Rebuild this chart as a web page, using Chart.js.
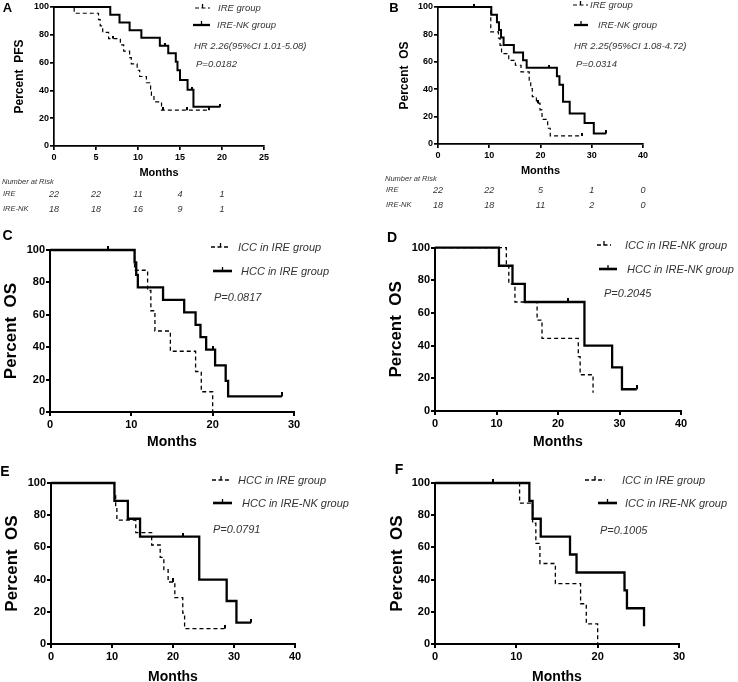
<!DOCTYPE html>
<html>
<head>
<meta charset="utf-8">
<title>Kaplan-Meier curves, IRE vs IRE-NK</title>
<script src="https://cdn.jsdelivr.net/npm/chart.js@4.4.1/dist/chart.umd.min.js"></script>
<style>
  body { margin: 0; background: #fff; }
  #fig { position: relative; width: 738px; height: 682px; overflow: hidden; font-family: "Liberation Sans", Arial, sans-serif; }
  .panel { position: absolute; }
  .t { position: absolute; line-height: 1; white-space: nowrap; transform: translateY(-50%); }
  .it { font-style: italic; color: #333; }
  .b { font-weight: bold; color: #000; }
  .c { transform: translate(-50%, -50%); }
</style>
</head>
<body>
<div id="fig"></div>
<script>
// ---- data (months, percent) ----

// A: progression-free survival
const pfsIreTimes = [0, 2.4, 5.3, 5.5, 5.8, 6.5, 7.9, 8.3, 9.0, 9.2, 9.9, 10.2, 11.0, 11.5, 11.6, 11.9, 12.8, 18.4];
const pfsIreSurv = [100, 95.5, 90.9, 86.4, 81.8, 77.3, 72.7, 68.2, 63.6, 59.1, 54.5, 50.0, 45.5, 40.9, 36.4, 31.8, 25.8, 25.8];
const pfsIreCensor = [7.0, 13.0, 15.8, 18.4];

const pfsNkTimes = [0, 6.7, 7.8, 9.0, 10.4, 12.6, 13.6, 14.5, 14.7, 15.0, 15.9, 16.6, 19.8];
const pfsNkSurv = [100, 94.4, 88.9, 83.3, 77.8, 72.2, 66.7, 60.6, 54.5, 47.4, 40.4, 28.3, 28.3];
const pfsNkCensor = [13.2, 16.4, 19.8];

// B: overall survival
const osIreTimes = [0, 10.3, 11.8, 12.1, 12.4, 13.8, 15.1, 16.2, 17.8, 18.1, 18.4, 19.2, 19.9, 20.3, 21.4, 21.9, 28.1];
const osIreSurv = [100, 81.8, 77.3, 72.0, 66.0, 61.0, 57.5, 52.7, 46.6, 40.5, 34.5, 29.8, 24.9, 18.0, 11.5, 5.9, 5.9];
const osIreCensor = [7.0, 19.6, 28.1];

const osNkTimes = [0, 10.4, 11.5, 11.9, 12.3, 12.8, 14.8, 16.6, 17.3, 23.2, 23.7, 24.4, 25.7, 28.6, 30.4, 32.8];
const osNkSurv = [100, 94.4, 88.9, 83.3, 77.8, 72.2, 66.7, 61.1, 55.6, 49.4, 43.2, 30.9, 22.2, 15.4, 7.7, 7.7];
const osNkCensor = [21.6, 32.8];

// C-F: subgroups
const iccIreTimes = [0, 10.4, 12.0, 12.4, 12.9, 14.8, 17.9, 18.6, 20.0];
const iccIreSurv = [100, 87.5, 75.0, 62.5, 50.0, 37.5, 25.0, 12.5, 0];
const iccIreCensor = [7.1];

const hccIreTimes = [0, 10.4, 10.6, 10.8, 13.9, 16.5, 17.9, 18.5, 19.2, 20.3, 21.6, 21.9, 28.5];
const hccIreSurv = [100, 92.3, 84.6, 76.9, 69.2, 61.5, 53.8, 46.2, 38.5, 28.8, 19.2, 9.6, 9.6];
const hccIreCensor = [20.0, 28.5];

const iccNkTimes = [0, 11.6, 12.0, 13.0, 16.6, 17.4, 23.3, 23.6, 25.7];
const iccNkSurv = [100, 88.9, 77.8, 66.7, 55.6, 44.4, 33.3, 22.2, 11.1];
const iccNkCensor = [];

const hccNkTimes = [0, 10.4, 12.6, 14.6, 24.3, 28.8, 30.4, 32.8];
const hccNkSurv = [100, 88.9, 77.8, 66.7, 40.0, 26.7, 13.3, 13.3];
const hccNkCensor = [21.7, 32.8];

// number at risk (A and B)
const riskTimesA = [0, 5, 10, 15, 20];
const riskIreA = [22, 22, 11, 4, 1];
const riskNkA = [18, 18, 16, 9, 1];
const riskTimesB = [0, 10, 20, 30, 40];
const riskIreB = [22, 22, 5, 1, 0];
const riskNkB = [18, 18, 11, 2, 0];

// ---- drawing ----
Chart.defaults.font.family = '"Liberation Sans", Arial, sans-serif';
Chart.defaults.color = '#000';

const fig = document.getElementById('fig');

function survAt(times, surv, t) {
    let v = surv[0];
    for (let i = 0; i < times.length; i++) {
        if (times[i] <= t) v = surv[i];
    }
    return v;
}

// small upward tick used for censored cases
function tickMark(h, w) {
    const c = document.createElement('canvas');
    c.width = w;
    c.height = h * 2;
    const g = c.getContext('2d');
    g.fillStyle = '#000';
    g.fillRect(0, 0, w, h);
    return c;
}

function curve(times, surv, censor, dashed) {
    return { times, surv, censor, dashed };
}

function kmSets(cv, p) {
    return [{
        data: cv.times.map((t, i) => ({ x: t, y: cv.surv[i] })),
        stepped: 'before',
        borderColor: '#000',
        borderWidth: cv.dashed ? p.dashW : p.lineW,
        borderDash: cv.dashed ? [4, 3] : [],
        pointRadius: 0,
        fill: false,
        clip: 3
    }, {
        data: cv.censor.map(t => ({ x: t, y: survAt(cv.times, cv.surv, t) })),
        showLine: false,
        pointStyle: tickMark(p.tickH, 2),
        pointRadius: 3,
        borderWidth: 0,
        clip: false
    }];
}

function makePanel(p) {
    const box = document.createElement('div');
    box.className = 'panel';
    box.style.left = p.left + 'px';
    box.style.top = p.top + 'px';
    const cvs = document.createElement('canvas');
    cvs.width = p.w;
    cvs.height = p.h;
    box.appendChild(cvs);
    fig.appendChild(box);

    const datasets = [];
    p.curves.forEach(cv => datasets.push(...kmSets(cv, p)));

    const xAxisH = p.h - p.pt - p.ph;
    return new Chart(cvs, {
        type: 'line',
        data: { datasets },
        options: {
            responsive: false,
            animation: false,
            events: [],
            layout: { padding: { left: 0, top: p.pt, right: p.w - p.plotRight, bottom: 0 } },
            plugins: { legend: { display: false }, tooltip: { enabled: false } },
            scales: {
                x: {
                    type: 'linear', min: 0, max: p.xMax,
                    ticks: { stepSize: p.xStep, font: { size: p.tick, weight: 'bold' }, color: '#000', padding: 2 },
                    grid: { drawOnChartArea: false, tickLength: 4, color: '#000', lineWidth: p.axisW },
                    border: { color: '#000', width: p.axisW },
                    title: { display: true, text: 'Months', color: '#000',
                             font: { size: p.xTitle, weight: 'bold' }, padding: { top: 0, bottom: p.xTitlePad } },
                    afterFit: s => { s.height = xAxisH; }
                },
                y: {
                    type: 'linear', min: 0, max: 100,
                    ticks: { stepSize: 20, font: { size: p.tick, weight: 'bold' }, color: '#000', padding: 1 },
                    grid: { drawOnChartArea: false, tickLength: 4, color: '#000', lineWidth: p.axisW },
                    border: { color: '#000', width: p.axisW },
                    title: { display: true, text: p.yTitle, color: '#000',
                             font: { size: p.yTitleSize, weight: 'bold' }, padding: { top: p.yTitlePad, bottom: 0 } },
                    afterFit: s => { s.width = p.yw; }
                }
            }
        }
    });
}

function txt(x, y, s, size, cls) {
    const d = document.createElement('div');
    d.className = 't ' + (cls || '');
    d.style.left = x + 'px';
    d.style.top = y + 'px';
    d.style.fontSize = size + 'px';
    d.textContent = s;
    fig.appendChild(d);
    return d;
}

function icon(x, y, w, dashed, lw) {
    const ns = 'http://www.w3.org/2000/svg';
    const svg = document.createElementNS(ns, 'svg');
    svg.setAttribute('width', w);
    svg.setAttribute('height', 10);
    svg.style.position = 'absolute';
    svg.style.left = x + 'px';
    svg.style.top = (y - 6) + 'px';
    const ln = document.createElementNS(ns, 'line');
    ln.setAttribute('x1', 0); ln.setAttribute('y1', 6);
    ln.setAttribute('x2', w); ln.setAttribute('y2', 6);
    ln.setAttribute('stroke', '#000');
    ln.setAttribute('stroke-width', lw);
    if (dashed) ln.setAttribute('stroke-dasharray', '4 2.5');
    const tk = document.createElementNS(ns, 'line');
    tk.setAttribute('x1', w / 2); tk.setAttribute('y1', 2);
    tk.setAttribute('x2', w / 2); tk.setAttribute('y2', 6);
    tk.setAttribute('stroke', '#000');
    tk.setAttribute('stroke-width', 1.3);
    svg.appendChild(ln);
    svg.appendChild(tk);
    fig.appendChild(svg);
}

const small = { tick: 9, xTitle: 11, xTitlePad: 2.4, yTitleSize: 12, axisW: 1.7, lineW: 2, dashW: 1.2, tickH: 3 };
const big = { tick: 11, xTitle: 14, xTitlePad: 1.6, yTitleSize: 17, axisW: 2, lineW: 2.3, dashW: 1.3, tickH: 4 };

const panels = [
    Object.assign({ letter: 'A', lx: 7.5, ly: 7, left: 0, top: 0, w: 282, h: 182, yw: 54, pt: 7, ph: 139, plotRight: 264,
        xMax: 25, xStep: 5, yTitle: 'Percent  PFS', yTitlePad: 12.8,
        curves: [curve(pfsIreTimes, pfsIreSurv, pfsIreCensor, true), curve(pfsNkTimes, pfsNkSurv, pfsNkCensor, false)],
        legend: [[195, 15, 8, 218, 'IRE group', true], [193, 17, 25, 217, 'IRE-NK group', false]],
        notes: [[194, 46, 'HR 2.26(95%CI 1.01-5.08)'], [196, 64, 'P=0.0182']], noteSize: 9.5 }, small),
    Object.assign({ letter: 'B', lx: 394, ly: 7, left: 380, top: 0, w: 281, h: 180, yw: 58, pt: 7, ph: 137, plotRight: 263,
        xMax: 40, xStep: 10, yTitle: 'Percent  OS', yTitlePad: 17.8,
        curves: [curve(osIreTimes, osIreSurv, osIreCensor, true), curve(osNkTimes, osNkSurv, osNkCensor, false)],
        legend: [[573, 15, 5, 590, 'IRE group', true], [574, 14, 25, 598, 'IRE-NK group', false]],
        notes: [[574, 46, 'HR 2.25(95%CI 1.08-4.72)'], [576, 64, 'P=0.0314']], noteSize: 9.5 }, small),
    Object.assign({ letter: 'C', lx: 7.5, ly: 235, left: 0, top: 240, w: 310, h: 212, yw: 50, pt: 10, ph: 162, plotRight: 294,
        xMax: 30, xStep: 10, yTitle: 'Percent  OS', yTitlePad: 0.8,
        curves: [curve(iccIreTimes, iccIreSurv, iccIreCensor, true), curve(hccIreTimes, hccIreSurv, hccIreCensor, false)],
        legend: [[211, 19, 247, 238, 'ICC in IRE group', true], [213, 19, 271, 241, 'HCC in IRE group', false]],
        notes: [[214, 297, 'P=0.0817']], noteSize: 11 }, big),
    Object.assign({ letter: 'D', lx: 392, ly: 237, left: 380, top: 240, w: 317, h: 212, yw: 55, pt: 7, ph: 164, plotRight: 301,
        xMax: 40, xStep: 10, yTitle: 'Percent  OS', yTitlePad: 5.8,
        curves: [curve(iccNkTimes, iccNkSurv, iccNkCensor, true), curve(hccNkTimes, hccNkSurv, hccNkCensor, false)],
        legend: [[597, 14, 245, 625, 'ICC in IRE-NK group', true], [599, 18, 269, 627, 'HCC in IRE-NK group', false]],
        notes: [[604, 293, 'P=0.2045']], noteSize: 11 }, big),
    Object.assign({ letter: 'E', lx: 5, ly: 471, left: 0, top: 470, w: 311, h: 217, yw: 51, pt: 13, ph: 161, plotRight: 295,
        xMax: 40, xStep: 10, yTitle: 'Percent  OS', yTitlePad: 1.8,
        curves: [curve(hccIreTimes, hccIreSurv, hccIreCensor, true), curve(hccNkTimes, hccNkSurv, hccNkCensor, false)],
        legend: [[212, 18, 480, 238, 'HCC in IRE group', true], [213, 19, 503, 242, 'HCC in IRE-NK group', false]],
        notes: [[213, 529, 'P=0.0791']], noteSize: 11 }, big),
    Object.assign({ letter: 'F', lx: 399, ly: 469, left: 380, top: 470, w: 315, h: 217, yw: 55, pt: 13, ph: 161, plotRight: 299,
        xMax: 30, xStep: 10, yTitle: 'Percent  OS', yTitlePad: 6.8,
        curves: [curve(iccIreTimes, iccIreSurv, iccIreCensor, true), curve(iccNkTimes, iccNkSurv, iccNkCensor, false)],
        legend: [[585, 20, 480, 622, 'ICC in IRE group', true], [598, 19, 503, 625, 'ICC in IRE-NK group', false]],
        notes: [[600, 530, 'P=0.1005']], noteSize: 11 }, big)
];

const charts = panels.map(p => {
    const ch = makePanel(p);
    txt(p.lx, p.ly, p.letter, p.tick === 9 ? 13 : 14, 'b c');
    p.legend.forEach(([ix, iw, y, tx, label, dashed]) => {
        icon(ix, y, iw, dashed, dashed ? p.dashW : p.lineW + 0.3);
        txt(tx, y, label, p.noteSize, 'it');
    });
    p.notes.forEach(([x, y, s]) => txt(x, y, s, p.noteSize, 'it'));
    return ch;
});

function riskTable(ch, p, x0, yHead, yIre, yNk, times, ire, nk) {
    txt(x0, yHead, 'Number at Risk', 7.5, 'it');
    txt(x0 + 1, yIre, 'IRE', 7.5, 'it');
    txt(x0 + 1, yNk, 'IRE-NK', 7.5, 'it');
    times.forEach((t, i) => {
        const x = p.left + ch.scales.x.getPixelForValue(t);
        txt(x, yIre, String(ire[i]), 9, 'it c');
        txt(x, yNk, String(nk[i]), 9, 'it c');
    });
}

riskTable(charts[0], panels[0], 2, 182, 194, 209, riskTimesA, riskIreA, riskNkA);
riskTable(charts[1], panels[1], 385, 179, 190, 205, riskTimesB, riskIreB, riskNkB);
</script>
</body>
</html>
